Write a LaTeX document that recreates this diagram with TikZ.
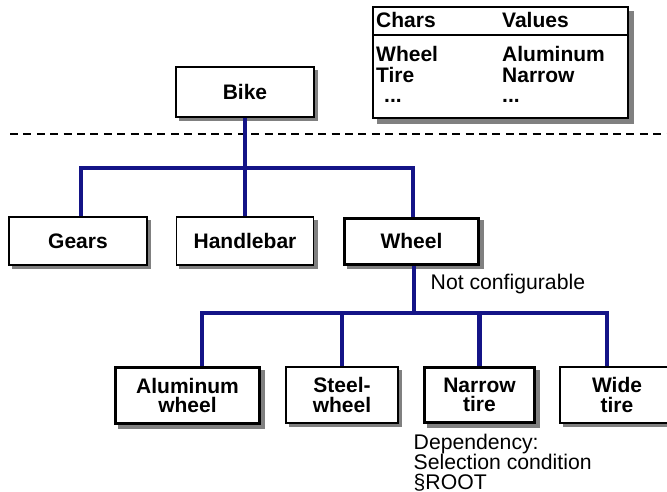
\documentclass[tikz,border=0pt]{standalone}
\usepackage{fontspec}
\setmainfont{Liberation Sans}
\definecolor{navy}{RGB}{20,20,135}
\begin{document}
\begin{tikzpicture}[x=1pt,y=-1pt,
  box/.style={draw=black, line width=1.2pt, fill=white, inner sep=0pt, align=center,
    font=\fontsize{21}{19.5}\selectfont\bfseries,
    preaction={draw=black!50, fill=black!50, transform canvas={xshift=3.5pt, yshift=-3.5pt}}},
  thickbox/.style={box, line width=3pt},
  bus/.style={line width=4.5pt, draw=navy, line join=miter},
  lbl/.style={anchor=base west, inner sep=0pt, font=\fontsize{21.2}{20}\selectfont},
  tlbl/.style={lbl, font=\fontsize{21}{20}\selectfont\bfseries}]
\useasboundingbox (0,0) rectangle (667,492);

% table
\node[draw=black, line width=1.2pt, fill=white, inner sep=0pt, minimum width=255pt, minimum height=111pt,
  preaction={draw=black!50, fill=black!50, transform canvas={xshift=5pt, yshift=-5pt}}] (table) at (500.5,62.5) {};
\coordinate (hl) at (373,35);
\draw[line width=1.2pt] (hl -| table.west) -- (hl -| table.east);
\node[tlbl] (c1) at (376,28) {Chars};
\node[tlbl] (v1) at (502,28) {Values};
\node[tlbl] (c2) at (376,62) {Wheel};
\node[tlbl] (v2) at (502,62) {Aluminum};
\node[tlbl] (c3) at (376,83) {Tire};
\node[tlbl] (v3) at (502,83) {Narrow};
\node[tlbl] (c4) at (384,103) {...};
\node[tlbl] (v4) at (502,103) {...};

% boxes
\node[box, minimum width=138pt, minimum height=50pt] (bike) at (245,92) {Bike};
\node[box, minimum width=138pt, minimum height=48pt] (gears) at (78,241) {Gears};
\node[box, minimum width=137pt, minimum height=48pt] (handle) at (245,241) {Handlebar};
\node[thickbox, minimum width=134pt, minimum height=46pt] (wheel) at (411.5,241) {Wheel};

\node[thickbox, minimum width=144pt, minimum height=56pt] (alu) at (187.5,395.5) {Aluminum\\wheel};
\node[box, minimum width=112pt, minimum height=56pt] (steel) at (342,395) {Steel-\\wheel};
\node[thickbox, minimum width=110pt, minimum height=55pt] (narrow) at (479.5,395) {Narrow\\tire};
\node[box, minimum width=114pt, minimum height=56pt] (wide) at (617,395) {Wide\\tire};

% dashed separator
\coordinate (d1) at (10,134);
\coordinate (d2) at (667,134);
\draw[dash pattern=on 8pt off 5.4pt, line width=1.3pt] (d1) -- (d2);

% upper bus
\coordinate (t1) at (81,168);
\coordinate (t2) at (413,168);
\draw[bus] (bike.south) -- (handle.north);
\draw[bus] (gears.north -| t1) -- (t1) -- (t2) -- (wheel.north -| t2);

% lower bus
\coordinate (b0) at (414,313);
\coordinate (bL) at (202,313);
\coordinate (bR) at (607,313);
\draw[bus] (wheel.south -| b0) -- (b0);
\draw[bus] (alu.north -| bL) -- (bL) -- (bR) -- (wide.north -| bR);
\draw[bus] (steel.north |- bL) -- (steel.north);
\draw[bus] (narrow.north |- bL) -- (narrow.north);

% annotations
\node[lbl] (nc) at (430.5,289) {Not configurable};
\node[lbl] (dep1) at (413.5,449) {Dependency:};
\node[lbl] (dep2) at (413.5,469) {Selection condition};
\node[lbl] (dep3) at (413.5,489) {§ROOT};
\end{tikzpicture}
\end{document}
